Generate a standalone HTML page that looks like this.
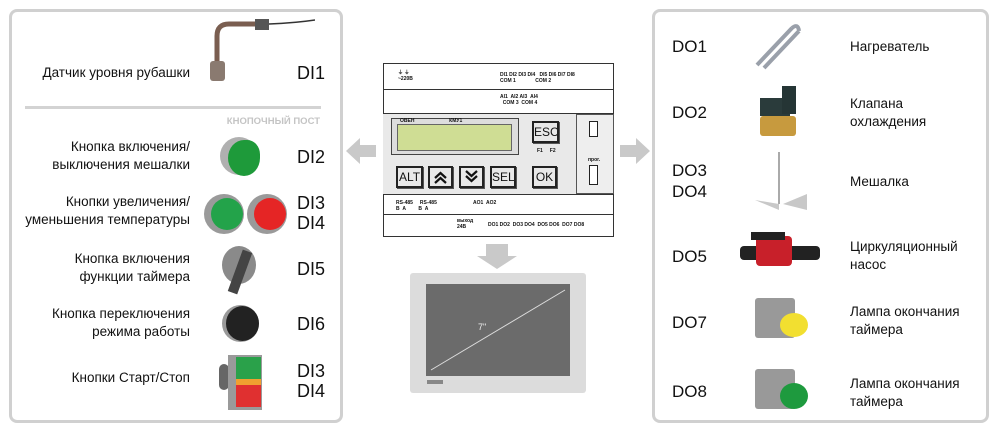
<!DOCTYPE html>
<html><head><meta charset="utf-8"><style>
*{margin:0;padding:0;box-sizing:border-box}
body{width:993px;height:431px;background:#fff;position:relative;overflow:hidden;font-family:"Liberation Sans","DejaVu Sans",sans-serif;color:#111}
.a{position:absolute}
.panel{position:absolute;border:3px solid #d0d0d0;border-radius:8px;background:#fff}
.l{position:absolute;font-size:13.5px;line-height:18px;text-align:right;width:200px;left:-10px}
.r{position:absolute;font-size:13.5px;line-height:18px;left:850px}
.di{position:absolute;font-size:18px;line-height:20px;left:297px}
.do{position:absolute;font-size:17px;line-height:21px;left:672px}
.btn{position:absolute;border:2px solid #222;background:#e8e8e8;font-size:12px;text-align:center;line-height:16px;box-shadow:1px 1px 0 #555;overflow:hidden}
.t{position:absolute;font-size:5px;font-weight:bold;line-height:6px}
</style></head><body>
<div class="panel" style="left:9px;top:9px;width:334px;height:414px"></div>
<div class="panel" style="left:652px;top:9px;width:337px;height:414px"></div>

<!-- left panel -->
<div class="l" style="top:64px">Датчик уровня рубашки</div>
<div class="di" style="top:63px">DI1</div>
<svg class="a" style="left:205px;top:16px" width="110" height="70"><path d="M12 62 V20 Q12 8 24 8 H55" stroke="#7a5e50" stroke-width="5" fill="none"/><rect x="50" y="3" width="14" height="11" fill="#555"/><path d="M64 8 Q90 7 110 4" stroke="#333" stroke-width="1.5" fill="none"/><rect x="5" y="45" width="15" height="20" rx="3" fill="#8a7a70"/></svg>
<div class="a" style="left:25px;top:106px;width:296px;height:3px;background:#d3d3d3"></div>
<div class="a" style="left:200px;top:116px;width:120px;text-align:right;font-size:9.5px;font-weight:bold;color:#c4c4c4">КНОПОЧНЫЙ ПОСТ</div>

<div class="l" style="top:138px">Кнопка включения/<br>выключения мешалки</div>
<div class="di" style="top:147px">DI2</div>
<div class="a" style="left:220px;top:137px;width:38px;height:38px;border-radius:50%;background:#b0b0b0"></div>
<div class="a" style="left:228px;top:140px;width:32px;height:36px;border-radius:50% 40% 50% 50%;background:#1e9a3a"></div>

<div class="l" style="top:193px">Кнопки увеличения/<br>уменьшения температуры</div>
<div class="di" style="top:193px">DI3<br>DI4</div>
<div class="a" style="left:204px;top:194px;width:40px;height:40px;border-radius:50%;background:#9a9a9a"></div>
<div class="a" style="left:211px;top:198px;width:32px;height:32px;border-radius:50%;background:#23a34a"></div>
<div class="a" style="left:247px;top:194px;width:40px;height:40px;border-radius:50%;background:#9a9a9a"></div>
<div class="a" style="left:254px;top:198px;width:32px;height:32px;border-radius:50%;background:#e52525"></div>

<div class="l" style="top:250px">Кнопка включения<br>функции таймера</div>
<div class="di" style="top:259px">DI5</div>
<div class="a" style="left:222px;top:246px;width:34px;height:38px;border-radius:50%;background:#8a8a8a"></div>
<div class="a" style="left:235px;top:250px;width:10px;height:44px;background:#444;transform:rotate(20deg)"></div>

<div class="l" style="top:305px">Кнопка переключения<br>режима работы</div>
<div class="di" style="top:314px">DI6</div>
<div class="a" style="left:222px;top:305px;width:37px;height:37px;border-radius:50%;background:#999"></div>
<div class="a" style="left:226px;top:306px;width:33px;height:35px;border-radius:50%;background:#222"></div>

<div class="l" style="top:369px">Кнопки Старт/Стоп</div>
<div class="di" style="top:361px">DI3<br>DI4</div>
<div class="a" style="left:219px;top:364px;width:10px;height:26px;border-radius:5px;background:#666"></div>
<div class="a" style="left:228px;top:355px;width:34px;height:55px;background:#9a9a9a"></div>
<div class="a" style="left:236px;top:357px;width:25px;height:22px;background:#2aa14a"></div>
<div class="a" style="left:236px;top:379px;width:25px;height:6px;background:#f0a030"></div>
<div class="a" style="left:236px;top:385px;width:25px;height:22px;background:#e03030"></div>

<!-- arrows -->
<svg class="a" style="left:346px;top:136px" width="30" height="30"><path d="M0 15 L14 2 V9 H30 V21 H14 V28Z" fill="#c9c9c9"/></svg>
<svg class="a" style="left:620px;top:136px" width="30" height="30"><path d="M30 15 L16 2 V9 H0 V21 H16 V28Z" fill="#c9c9c9"/></svg>
<svg class="a" style="left:477px;top:242px" width="40" height="28"><path d="M20 27 L0 14 H9 V2 H31 V14 H40Z" fill="#c9c9c9"/></svg>

<!-- controller -->
<div class="a" style="left:383px;top:63px;width:231px;height:174px;border:1px solid #333;background:#fff"></div>
<div class="a" style="left:383px;top:89px;width:231px;height:1px;background:#333"></div>
<div class="a" style="left:383px;top:113px;width:231px;height:82px;background:#e9e9e9;border-top:1px solid #333;border-bottom:1px solid #333"></div>
<div class="a" style="left:383px;top:214px;width:231px;height:1px;background:#333"></div>
<div class="t" style="left:398px;top:70px">⏚ ⏚<br>~220В</div>
<div class="t" style="left:500px;top:72px">DI1 DI2 DI3 DI4 &nbsp; DI5 DI6 DI7 DI8<br>COM 1 &nbsp;&nbsp;&nbsp;&nbsp;&nbsp;&nbsp;&nbsp;&nbsp;&nbsp;&nbsp;&nbsp;&nbsp;&nbsp;COM 2</div>
<div class="t" style="left:500px;top:94px">AI1 &nbsp;AI2 AI3 &nbsp;AI4<br>&nbsp;&nbsp;COM 3 &nbsp;COM 4</div>
<div class="a" style="left:391px;top:118px;width:128px;height:37px;background:#ddd;border:1px solid #444"></div>
<div class="a" style="left:397px;top:124px;width:115px;height:27px;background:#cfdd94;border:1px solid #666"></div>
<div class="t" style="left:400px;top:118px">ОВЕН &nbsp;&nbsp;&nbsp;&nbsp;&nbsp;&nbsp;&nbsp;&nbsp;&nbsp;&nbsp;&nbsp;&nbsp;&nbsp;&nbsp;&nbsp;&nbsp;&nbsp;&nbsp;&nbsp;&nbsp;&nbsp;&nbsp;&nbsp;&nbsp;КМУ1</div>
<div class="btn" style="left:532px;top:121px;width:27px;height:22px;line-height:18px">ESC</div>
<div class="t" style="left:537px;top:148px">F1 &nbsp;&nbsp;&nbsp;&nbsp;F2</div>
<div class="btn" style="left:396px;top:166px;width:27px;height:22px;line-height:18px">ALT</div>
<div class="btn" style="left:428px;top:166px;width:25px;height:22px"><svg width="21" height="18"><path d="M5 10 L10.5 5 L16 10 M5 15 L10.5 10 L16 15" stroke="#111" stroke-width="2.2" fill="none"/></svg></div>
<div class="btn" style="left:459px;top:166px;width:25px;height:22px"><svg width="21" height="18"><path d="M5 3 L10.5 8 L16 3 M5 8 L10.5 13 L16 8" stroke="#111" stroke-width="2.2" fill="none"/></svg></div>
<div class="btn" style="left:490px;top:166px;width:26px;height:22px;line-height:18px">SEL</div>
<div class="btn" style="left:532px;top:166px;width:25px;height:22px;line-height:18px">OK</div>
<div class="a" style="left:576px;top:114px;width:38px;height:80px;border:1px solid #555;background:#eee"></div>
<div class="a" style="left:589px;top:121px;width:9px;height:16px;border:1.5px solid #222;background:#fff"></div>
<div class="t" style="left:588px;top:157px">прог.</div>
<div class="a" style="left:589px;top:165px;width:9px;height:20px;border:1.5px solid #222;background:#fff"></div>
<div class="t" style="left:396px;top:200px">RS-485 &nbsp;&nbsp;&nbsp;&nbsp;RS-485 &nbsp;&nbsp;&nbsp;&nbsp;&nbsp;&nbsp;&nbsp;&nbsp;&nbsp;&nbsp;&nbsp;&nbsp;&nbsp;&nbsp;&nbsp;&nbsp;&nbsp;&nbsp;&nbsp;&nbsp;&nbsp;&nbsp;&nbsp;&nbsp;&nbsp;AO1 &nbsp;AO2<br>B &nbsp;A &nbsp;&nbsp;&nbsp;&nbsp;&nbsp;&nbsp;&nbsp;&nbsp;B &nbsp;A</div>
<div class="t" style="left:457px;top:218px">выход<br>24В</div>
<div class="t" style="left:488px;top:222px">DO1 DO2 &nbsp;DO3 DO4 &nbsp;DO5 DO6 &nbsp;DO7 DO8</div>

<!-- screen -->
<div class="a" style="left:410px;top:273px;width:176px;height:120px;background:#dcdcdc;border-radius:3px"></div>
<div class="a" style="left:426px;top:284px;width:144px;height:92px;background:#6b6b6b"></div>
<svg class="a" style="left:426px;top:284px" width="144" height="92"><line x1="5" y1="86" x2="139" y2="6" stroke="#ddd" stroke-width="1"/></svg>
<div class="a" style="left:478px;top:322px;font-size:9px;color:#eee">7"</div>
<div class="a" style="left:427px;top:380px;width:16px;height:4px;background:#888"></div>

<!-- right panel -->
<div class="do" style="top:36px">DO1</div>
<div class="r" style="top:38px">Нагреватель</div>
<svg class="a" style="left:752px;top:20px" width="50" height="55"><path d="M5 45 L40 8 M12 48 L47 11 M40 8 Q46 3 47 11" stroke="#9aa0aa" stroke-width="4" fill="none"/></svg>

<div class="do" style="top:102px">DO2</div>
<div class="r" style="top:95px">Клапана<br>охлаждения</div>
<div class="a" style="left:760px;top:98px;width:30px;height:18px;background:#2a3b3b"></div>
<div class="a" style="left:782px;top:86px;width:14px;height:28px;background:#253535"></div>
<div class="a" style="left:760px;top:116px;width:36px;height:20px;background:#c79a3e;border-radius:3px"></div>

<div class="do" style="top:160px">DO3<br>DO4</div>
<div class="r" style="top:173px">Мешалка</div>
<div class="a" style="left:778px;top:152px;width:2px;height:52px;background:#aaa"></div>
<svg class="a" style="left:755px;top:190px" width="55" height="24"><path d="M0 10 L24 14 L24 20Z M28 14 L52 4 L52 20Z" fill="#c8c8c8"/></svg>

<div class="do" style="top:246px">DO5</div>
<div class="r" style="top:238px">Циркуляционный<br>насос</div>
<div class="a" style="left:740px;top:246px;width:80px;height:14px;background:#222;border-radius:4px"></div>
<div class="a" style="left:756px;top:236px;width:36px;height:30px;background:#c8202a;border-radius:4px"></div>
<div class="a" style="left:751px;top:232px;width:34px;height:8px;background:#222"></div>

<div class="do" style="top:312px">DO7</div>
<div class="r" style="top:303px">Лампа окончания<br>таймера</div>
<div class="a" style="left:755px;top:298px;width:40px;height:40px;background:#999;border-radius:3px"></div>
<div class="a" style="left:780px;top:313px;width:28px;height:24px;border-radius:50%;background:#f2df30"></div>

<div class="do" style="top:381px">DO8</div>
<div class="r" style="top:375px">Лампа окончания<br>таймера</div>
<div class="a" style="left:755px;top:369px;width:40px;height:40px;background:#999;border-radius:3px"></div>
<div class="a" style="left:780px;top:383px;width:28px;height:26px;border-radius:50%;background:#1e9a3e"></div>
</body></html>
